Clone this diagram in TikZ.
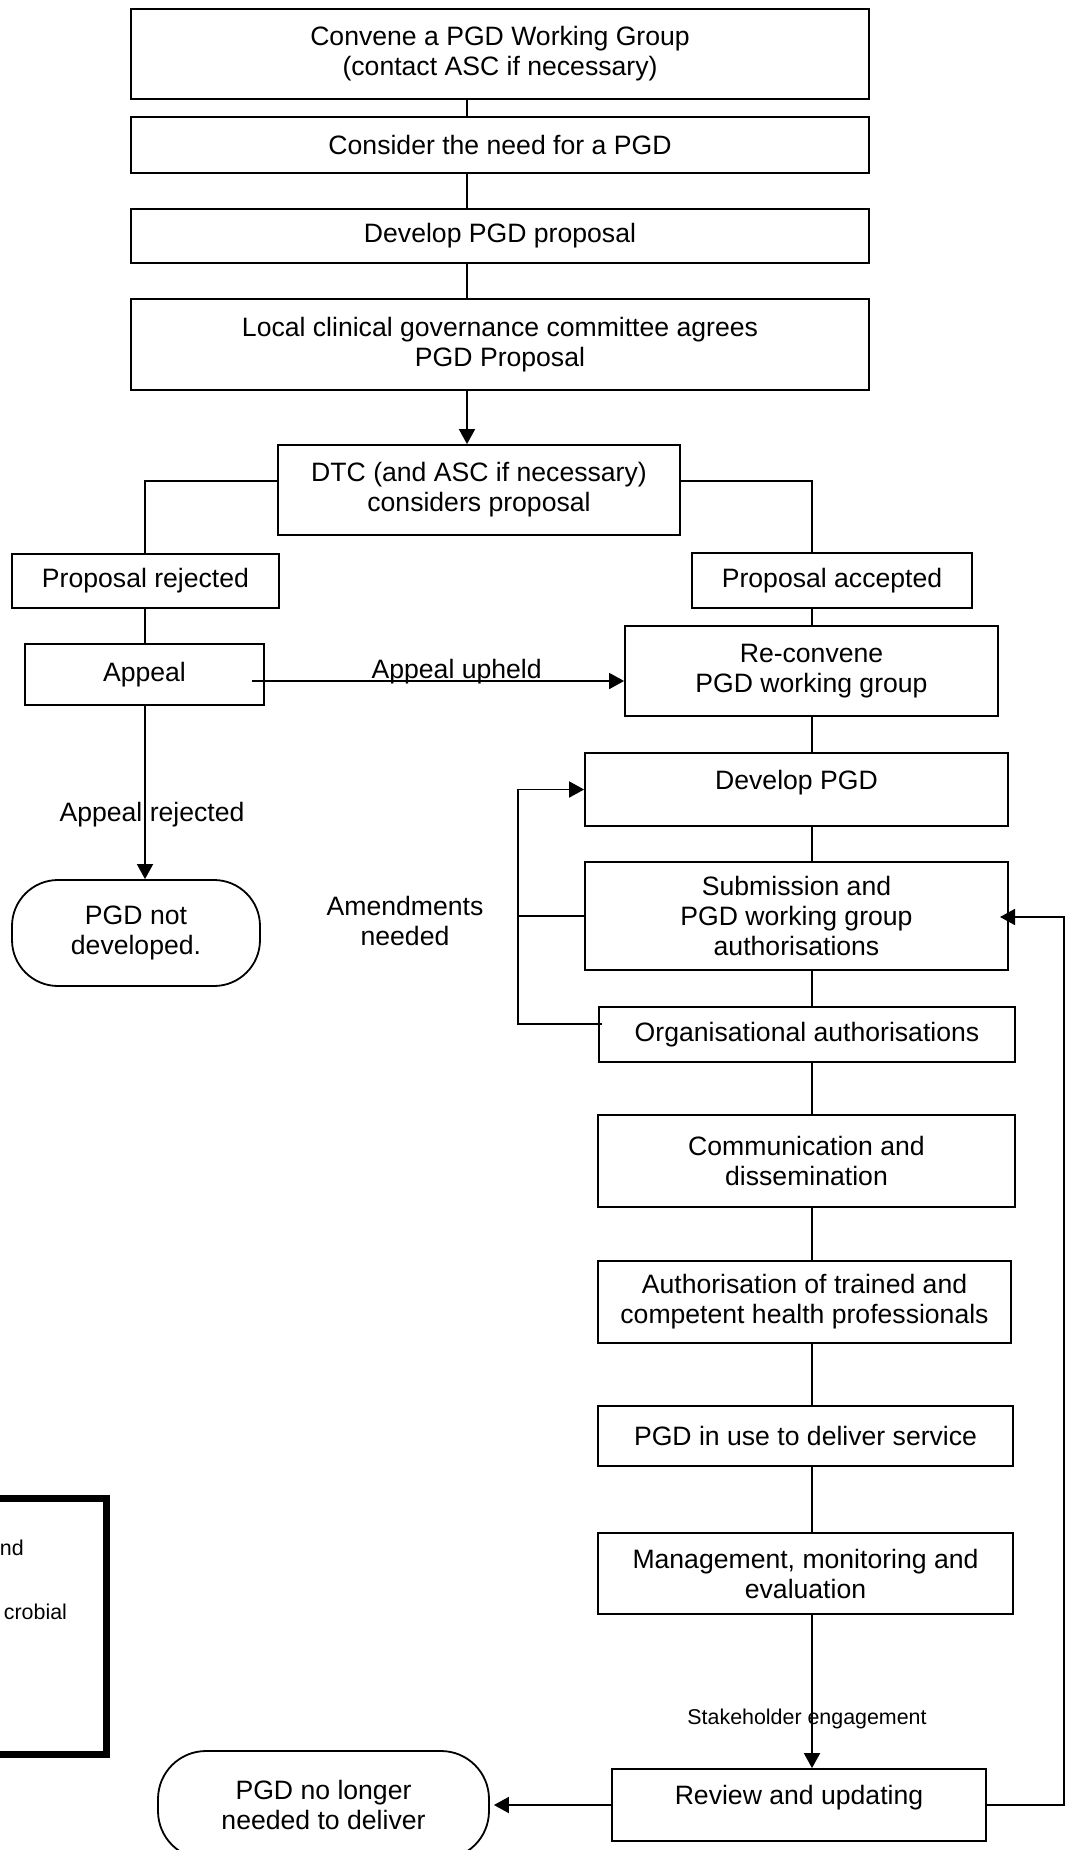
\documentclass[tikz,border=0pt]{standalone}
\usepackage{fontspec}
\setmainfont{Liberation Sans}
\usetikzlibrary{arrows.meta}

\begin{document}
\begin{tikzpicture}[x=0.5pt, y=-0.5pt, line width=0.9pt, font=\fontsize{13.3}{15}\selectfont,
        >={Triangle[length=7.5pt,width=8pt]},
        main/.style = {draw, rectangle, align=center, inner sep=0pt},
        term/.style = {main, rounded corners=23pt},
        toptext/.style = {text height=9.7pt, text depth=10pt},
        small/.style = {font=\fontsize{10.7}{12.5}\selectfont, inner sep=0pt}]
        \useasboundingbox (0,0) rectangle (1066,1850);

        % left column
        \node[main, minimum width=369pt, minimum height=45pt] (1) at (500,54) {Convene a PGD Working Group\\(contact ASC if necessary)};
        \node[main, minimum width=369pt, minimum height=28pt] (2) at (500,145) {Consider the need for a PGD};
        \node[main, minimum width=369pt, minimum height=27pt] (3) at (500,236) {Develop PGD proposal};
        \node[main, minimum width=369pt, minimum height=45.5pt] (4) at (500,344.5) {Local clinical governance committee agrees\\PGD Proposal};
        \node[main, minimum width=201pt, minimum height=45pt] (5) at (479,490) {DTC (and ASC if necessary)\\considers proposal};
        \node[main, minimum width=133.5pt, minimum height=27pt] (6) at (145.5,581) {Proposal rejected};
        \node[main, minimum width=140pt, minimum height=27.5pt] (7) at (832,580.5) {Proposal accepted};
        \node[main, minimum width=119.5pt, minimum height=30.5pt] (8) at (144.5,674.5) {Appeal};
        \node[main, minimum width=186.5pt, minimum height=45pt] (9) at (811.5,671) {Re-convene\\PGD working group};
        \node[term, minimum width=124pt, minimum height=53pt] (10) at (136,933) {PGD not\\developed.};

        % right column
        \node[main, toptext, minimum width=211.5pt, minimum height=36.5pt] (11) at (796.5,789.5) {Develop PGD};
        \node[main, minimum width=211.5pt, minimum height=54pt] (12) at (796.5,916) {Submission and\\PGD working group\\authorisations};
        \node[main, minimum width=208pt, minimum height=27.5pt] (13) at (807,1034.5) {Organisational authorisations};
        \node[main, minimum width=208.5pt, minimum height=46pt] (14) at (806.5,1161) {Communication and\\dissemination};
        \node[main, minimum width=206.5pt, minimum height=41pt] (15) at (804.5,1302) {Authorisation of trained and\\competent health professionals};
        \node[main, minimum width=207.5pt, minimum height=30pt] (16) at (805.5,1436) {PGD in use to deliver service};
        \node[main, minimum width=207.5pt, minimum height=40.5pt] (17) at (805.5,1573.5) {Management, monitoring and\\evaluation};
        \node[main, toptext, minimum width=187pt, minimum height=36pt] (18) at (799,1805) {Review and updating};
        \node[term, rounded corners=24pt, minimum width=165.5pt, minimum height=54pt] (19) at (323.5,1805) {PGD no longer\\needed to deliver};
        \node[align=center] (20) at (405,921) {Amendments\\needed};

        % key box, cut by the page edge
        \draw[line width=3.5pt] (-20,1498) rectangle (106,1754);
        \node[small, anchor=west] (21) at (-1,1548) {nd};
        \node[small, anchor=west] (22) at (3,1612) {crobial};

        \coordinate (cl) at (467,0);
        \coordinate (cr) at (812,0);
        \coordinate (cx) at (145,0);
        \coordinate (yb) at (0,481);
        \coordinate (a1) at (252,681);
        \coordinate (l1) at (518,0);
        \coordinate (o1) at (602,1024);
        \coordinate (f1) at (1064,0);
        \coordinate (f2) at (1000,917);

        \draw (1.south -| cl) -- (2.north -| cl);
        \draw (2.south -| cl) -- (3.north -| cl);
        \draw (3.south -| cl) -- (4.north -| cl);
        \draw[->] (4.south -| cl) -- (5.north -| cl);
        \draw (5.west |- yb) -| (6.north -| cx);
        \draw (5.east |- yb) -| (7.north -| cr);
        \draw (6.south -| cx) -- (8.north -| cx);
        \draw (7.south -| cr) -- (9.north -| cr);
        \draw[->] (a1) -- node[pos=0.55, anchor=base, yshift=1.5pt] {Appeal upheld} (9.west |- a1);
        \draw[->] (8.south -| cx) -- node[pos=0.63, xshift=3.5pt] {Appeal rejected} (10.north -| cx);

        \draw (9.south -| cr) -- (11.north -| cr);
        \draw (11.south -| cr) -- (12.north -| cr);
        \draw (12.south -| cr) -- (13.north -| cr);
        \draw (13.south -| cr) -- (14.north -| cr);
        \draw (14.south -| cr) -- (15.north -| cr);
        \draw (15.south -| cr) -- (16.north -| cr);
        \draw (16.south -| cr) -- (17.north -| cr);
        \draw[->] (17.south -| cr) -- node[small, pos=0.68, xshift=-2.5pt] {Stakeholder engagement} (18.north -| cr);

        % amendments loop
        \draw[->] (o1) -| (l1 |- 11.west) -- (11.west);
        \draw (12.west) -- (12.west -| l1);

        \draw[->, shorten >=2pt] (18.west) -- (19.east);
        \draw[->] (18.east) -| (f1 |- f2) -- (f2);

    \end{tikzpicture}
\end{document}
